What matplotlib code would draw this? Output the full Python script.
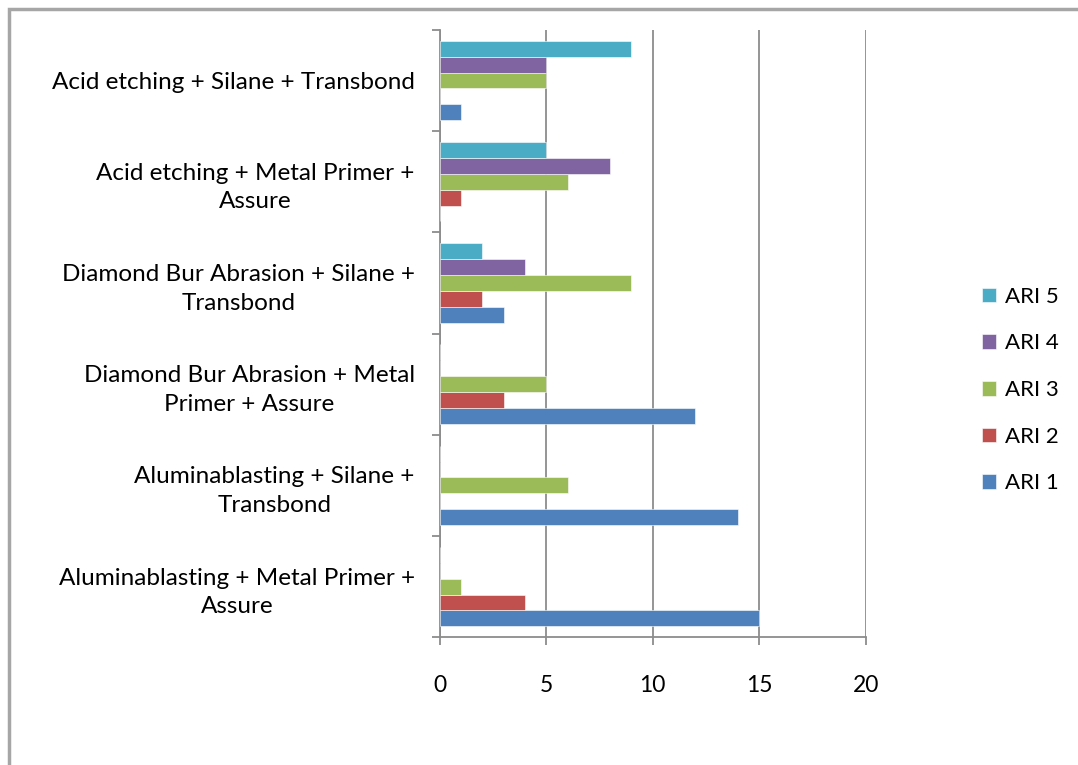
import matplotlib.pyplot as plt
import numpy as np
from matplotlib.patches import Rectangle

categories = [
    'Aluminablasting + Metal Primer +\nAssure',
    'Aluminablasting + Silane +\nTransbond',
    'Diamond Bur Abrasion + Metal\nPrimer + Assure',
    'Diamond Bur Abrasion + Silane +\nTransbond',
    'Acid etching + Metal Primer +\nAssure',
    'Acid etching + Silane + Transbond',
]
series = ['ARI 1', 'ARI 2', 'ARI 3', 'ARI 4', 'ARI 5']
ari1 = [15, 14, 12, 3, 0, 1]
ari2 = [4, 0, 3, 2, 1, 0]
ari3 = [1, 6, 5, 9, 6, 5]
ari4 = [0, 0, 0, 4, 8, 5]
ari5 = [0, 0, 0, 2, 5, 9]
colors = ['#4F81BD', '#C0504D', '#9BBB59', '#8064A2', '#4BACC6']

plt.rcParams['font.family'] = ['Lato', 'DejaVu Sans']

fig = plt.figure(figsize=(10.78, 7.65), dpi=100)
ax = fig.add_axes([0.408, 0.167, 0.395, 0.794])

# outer chart frame (right and bottom edges fall outside the image)
fig.patches.append(Rectangle((9 / 1078, -0.1), 1.2, 1 - 9 / 765 + 0.1,
                             transform=fig.transFigure, fill=False,
                             edgecolor='#a6a6a6', linewidth=2.5, zorder=0))

y = np.arange(len(categories))
h = 0.157
for k, (vals, name, c) in enumerate(zip([ari1, ari2, ari3, ari4, ari5], series, colors)):
    ax.barh(y + (k - 2) * h, vals, height=h, color=c, label=name,
            edgecolor='white', linewidth=0.4, zorder=3)

ax.set_xlim(0, 20)
ax.set_ylim(-0.5, len(categories) - 0.5)
ax.set_xticks([0, 5, 10, 15, 20])
ax.grid(axis='x', color='#8c8c8c', linewidth=1.3, zorder=0)

ax.set_yticks(y)
ax.set_yticklabels(categories, multialignment='center', fontsize=17.5,
                   linespacing=1.45)
ax.set_yticks(np.arange(-0.5, len(categories)), minor=True)
ax.tick_params(axis='y', which='major', length=0, pad=18)
ax.tick_params(axis='y', which='minor', length=6, color='#8c8c8c', width=1.3)
ax.tick_params(axis='x', length=6, color='#8c8c8c', width=1.3, pad=21, labelsize=16.5)

for s in ['top', 'right']:
    ax.spines[s].set_visible(False)
for s in ['left', 'bottom']:
    ax.spines[s].set_color('#8c8c8c')
    ax.spines[s].set_linewidth(1.3)

handles, labels = ax.get_legend_handles_labels()
fig.legend(handles[::-1], labels[::-1], loc='center left',
           bbox_to_anchor=(0.892, 0.49), frameon=False, fontsize=16,
           handlelength=0.65, handleheight=0.65, handletextpad=0.4,
           labelspacing=1.2)

fig.savefig('out.png', dpi=100)
